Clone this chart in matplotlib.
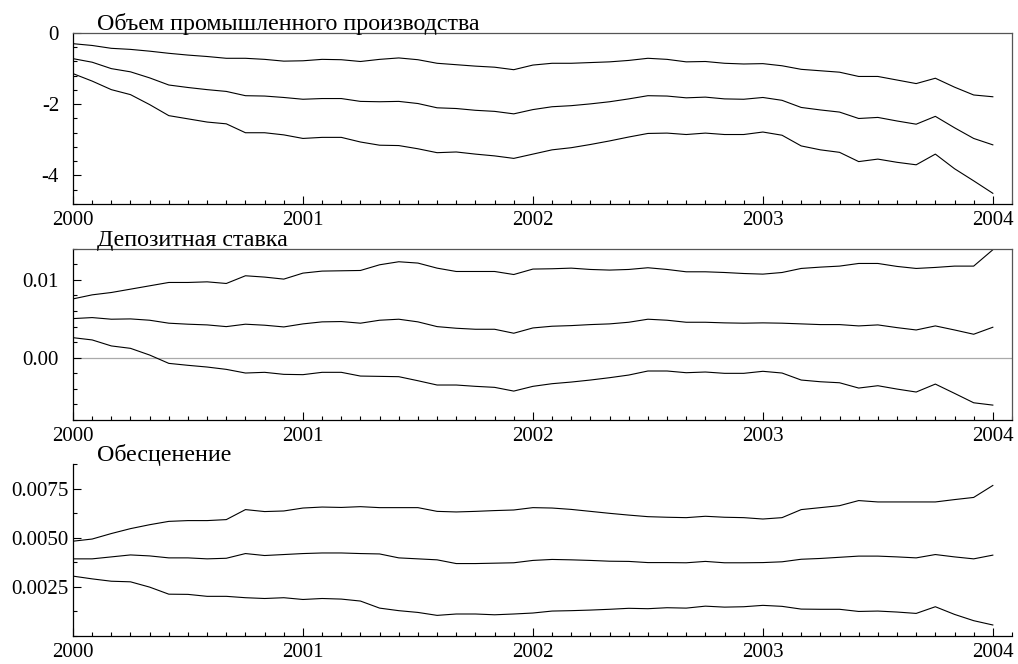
import matplotlib
matplotlib.use("Agg")
import matplotlib.pyplot as plt
import matplotlib.transforms as mtransforms
import numpy as np
from matplotlib.ticker import MultipleLocator, FixedLocator, FormatStrFormatter

plt.rcParams['font.family'] = ['Liberation Serif', 'DejaVu Serif']

# monthly, Jan 2000 .. Jan 2004
months = 2000 + np.arange(49) / 12.0

titles = ["Объем промышленного производства", "Депозитная ставка", "Обесценение"]

prod_hi = [-0.30, -0.35, -0.43, -0.46, -0.51, -0.57, -0.62, -0.66, -0.71, -0.71, -0.74, -0.79,
           -0.78, -0.74, -0.75, -0.80, -0.74, -0.70, -0.75, -0.85, -0.89, -0.93, -0.96, -1.03,
           -0.90, -0.85, -0.85, -0.83, -0.81, -0.77, -0.71, -0.74, -0.81, -0.80, -0.85, -0.87,
           -0.86, -0.92, -1.02, -1.06, -1.10, -1.22, -1.22, -1.32, -1.42, -1.27, -1.52, -1.74,
           -1.79]
prod_mid = [-0.72, -0.82, -1.00, -1.09, -1.26, -1.46, -1.53, -1.59, -1.64, -1.76, -1.77, -1.81,
            -1.86, -1.84, -1.84, -1.92, -1.93, -1.92, -1.98, -2.10, -2.12, -2.17, -2.20, -2.27,
            -2.15, -2.07, -2.04, -1.99, -1.93, -1.85, -1.76, -1.77, -1.82, -1.80, -1.85, -1.86,
            -1.81, -1.89, -2.09, -2.16, -2.22, -2.40, -2.37, -2.47, -2.56, -2.34, -2.66, -2.96,
            -3.14]
prod_lo = [-1.14, -1.35, -1.59, -1.73, -2.01, -2.32, -2.41, -2.50, -2.55, -2.80, -2.80, -2.86,
           -2.96, -2.93, -2.93, -3.06, -3.15, -3.16, -3.25, -3.36, -3.34, -3.40, -3.45, -3.52,
           -3.40, -3.28, -3.22, -3.13, -3.03, -2.92, -2.82, -2.81, -2.85, -2.81, -2.85, -2.85,
           -2.78, -2.87, -3.17, -3.28, -3.35, -3.61, -3.54, -3.63, -3.70, -3.40, -3.81, -4.15,
           -4.50]

dep_hi = [0.00755, 0.00807, 0.00837, 0.00880, 0.00923, 0.00966, 0.00966, 0.00974, 0.00953,
          0.01052, 0.01035, 0.01009, 0.01086, 0.01112, 0.01116, 0.01120, 0.01193, 0.01232,
          0.01215, 0.01150, 0.01107, 0.01107, 0.01107, 0.01068, 0.01138, 0.01142, 0.01150,
          0.01133, 0.01125, 0.01133, 0.01155, 0.01133, 0.01103, 0.01103, 0.01094, 0.01081,
          0.01073, 0.01094, 0.01146, 0.01163, 0.01176, 0.01210, 0.01210, 0.01172, 0.01146,
          0.01159, 0.01176, 0.01176, 0.01386]
dep_mid = [0.00502, 0.00515, 0.00494, 0.00498, 0.00481, 0.00443, 0.00430, 0.00421, 0.00399,
           0.00430, 0.00417, 0.00395, 0.00434, 0.00460, 0.00464, 0.00443, 0.00481, 0.00494,
           0.00460, 0.00399, 0.00378, 0.00365, 0.00365, 0.00314, 0.00382, 0.00404, 0.00412,
           0.00425, 0.00434, 0.00455, 0.00494, 0.00481, 0.00455, 0.00455, 0.00447, 0.00443,
           0.00447, 0.00443, 0.00434, 0.00425, 0.00425, 0.00408, 0.00421, 0.00386, 0.00356,
           0.00408, 0.00356, 0.00301, 0.00391]
dep_lo = [0.00257, 0.00228, 0.00151, 0.00120, 0.00034, -0.00073, -0.00098, -0.00120, -0.00150,
          -0.00197, -0.00188, -0.00214, -0.00218, -0.00188, -0.00188, -0.00236, -0.00240,
          -0.00244, -0.00296, -0.00351, -0.00351, -0.00368, -0.00381, -0.00429, -0.00368,
          -0.00334, -0.00313, -0.00287, -0.00257, -0.00223, -0.00171, -0.00171, -0.00193,
          -0.00184, -0.00201, -0.00201, -0.00175, -0.00197, -0.00287, -0.00309, -0.00322,
          -0.00390, -0.00360, -0.00403, -0.00441, -0.00339, -0.00458, -0.00579, -0.00609]

dev_hi = [0.00483, 0.00494, 0.00522, 0.00547, 0.00567, 0.00584, 0.00588, 0.00588, 0.00593,
          0.00644, 0.00634, 0.00637, 0.00652, 0.00657, 0.00655, 0.00659, 0.00654, 0.00654,
          0.00654, 0.00635, 0.00632, 0.00635, 0.00639, 0.00642, 0.00654, 0.00652, 0.00645,
          0.00635, 0.00625, 0.00616, 0.00608, 0.00605, 0.00603, 0.00610, 0.00605, 0.00603,
          0.00596, 0.00603, 0.00644, 0.00654, 0.00664, 0.00690, 0.00683, 0.00683, 0.00683,
          0.00683, 0.00695, 0.00706, 0.00767]
dev_mid = [0.00393, 0.00393, 0.00403, 0.00413, 0.00408, 0.00398, 0.00398, 0.00393, 0.00396,
           0.00420, 0.00410, 0.00415, 0.00420, 0.00423, 0.00423, 0.00420, 0.00418, 0.00398,
           0.00393, 0.00388, 0.00369, 0.00369, 0.00371, 0.00373, 0.00385, 0.00390, 0.00388,
           0.00385, 0.00381, 0.00380, 0.00374, 0.00374, 0.00373, 0.00380, 0.00373, 0.00373,
           0.00374, 0.00378, 0.00391, 0.00395, 0.00401, 0.00407, 0.00407, 0.00403, 0.00398,
           0.00415, 0.00403, 0.00393, 0.00412]
dev_lo = [0.00305, 0.00291, 0.00279, 0.00276, 0.00249, 0.00213, 0.00212, 0.00202, 0.00202,
          0.00195, 0.00191, 0.00195, 0.00186, 0.00191, 0.00188, 0.00178, 0.00142, 0.00129,
          0.00120, 0.00105, 0.00112, 0.00112, 0.00108, 0.00112, 0.00117, 0.00127, 0.00129,
          0.00132, 0.00136, 0.00141, 0.00139, 0.00144, 0.00142, 0.00152, 0.00147, 0.00149,
          0.00156, 0.00151, 0.00137, 0.00136, 0.00136, 0.00125, 0.00127, 0.00122, 0.00115,
          0.00149, 0.00110, 0.00078, 0.00056]

series = [(prod_hi, prod_mid, prod_lo), (dep_hi, dep_mid, dep_lo), (dev_hi, dev_mid, dev_lo)]
ylims = [(-4.8, 0.0), (-0.008, 0.014), (0.0, 0.00875)]
majors = [[-4, -2, 0], [0.0, 0.01], [0.0025, 0.005, 0.0075]]
minor_step = [0.4, 0.002, 0.00125]
fmts = ["%g", "%.2f", "%.4f"]
ypads = [10, 10, 3]

fig = plt.figure(figsize=(10.18, 6.64), dpi=100)
boxes = [[0.0717, 0.6928, 0.9224, 0.2575],
         [0.0717, 0.3675, 0.9224, 0.2580],
         [0.0717, 0.0422, 0.9224, 0.2586]]

for k in range(3):
    ax = fig.add_axes(boxes[k])
    for s in series[k]:
        ax.plot(months, s, color='black', lw=0.8)
    if k == 1:
        ax.axhline(0, color='#aaaaaa', lw=0.9, zorder=0)
    ax.set_xlim(2000, 2000 + 49 / 12.0)
    ax.set_ylim(*ylims[k])
    ax.xaxis.set_major_locator(FixedLocator([2000, 2001, 2002, 2003, 2004]))
    ax.xaxis.set_major_formatter(FormatStrFormatter("%d"))
    ax.xaxis.set_minor_locator(MultipleLocator(1 / 12.0))
    ax.yaxis.set_major_locator(FixedLocator(majors[k]))
    ax.yaxis.set_major_formatter(FormatStrFormatter(fmts[k]))
    ax.yaxis.set_minor_locator(MultipleLocator(minor_step[k]))
    ax.tick_params(which='both', direction='in', width=0.8, labelsize=15, colors='black')
    ax.tick_params(which='major', length=5.5)
    ax.tick_params(which='minor', length=3)
    ax.tick_params(axis='x', pad=5)
    ax.tick_params(axis='y', pad=ypads[k])
    for side in ['left', 'bottom']:
        ax.spines[side].set_color('black')
        ax.spines[side].set_linewidth(0.9)
    if k == 2:
        ax.spines['top'].set_visible(False)
        ax.spines['right'].set_visible(False)
    else:
        for side in ['top', 'right']:
            ax.spines[side].set_color('#555555')
            ax.spines[side].set_linewidth(0.9)
    off = mtransforms.ScaledTranslation(0, 3 / 100.0, fig.dpi_scale_trans)
    ax.text(0.026, 1.0, titles[k], transform=ax.transAxes + off, fontsize=17.3,
            va='baseline', ha='left')

fig.savefig("out.png", dpi=100)
